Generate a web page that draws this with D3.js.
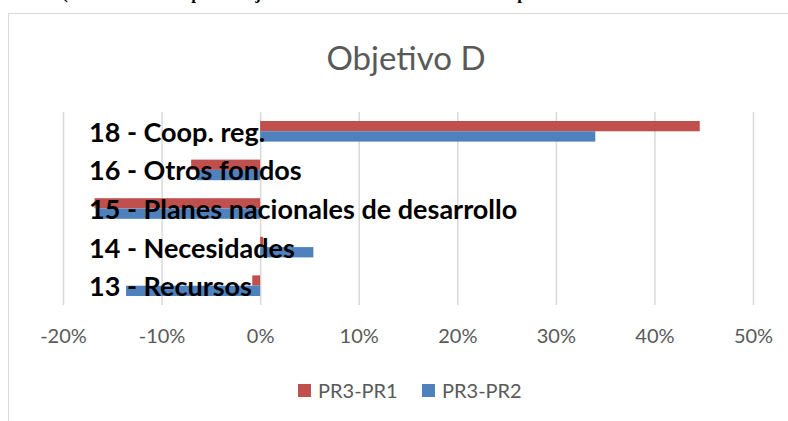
<!DOCTYPE html>
<meta charset="utf-8">
<script src="https://d3js.org/d3.v7.min.js"></script>
<style>
  body { margin: 0; background: #fff; }
  svg { display: block; }
</style>
<body>
<script>
  // chart data
  var categories = ["18 - Coop. reg.", "16 - Otros fondos", "15 - Planes nacionales de desarrollo", "14 - Necesidades", "13 - Recursos"];
  var pr3pr1 = [0.446, -0.070, -0.168, 0.003, -0.008];
  var pr3pr2 = [0.340, -0.064, -0.167, 0.054, -0.136];
  var seriesNames = ["PR3-PR1", "PR3-PR2"];
  var seriesColors = ["#c0504d", "#4f81bd"];
  var tickValues = [-0.2, -0.1, 0, 0.1, 0.2, 0.3, 0.4, 0.5];

  var W = 788, H = 421;
  var plot = { left: 63, right: 753, top: 112, bottom: 305 };

  var svg = d3.select("body").append("svg")
    .attr("width", W)
    .attr("height", H);

  // document heading above the chart, cut off by the crop as in the original
  svg.append("text")
    .attr("x", 40)
    .attr("y", -1)
    .style("font-family", "'Liberation Serif', serif")
    .style("font-weight", "bold")
    .style("font-size", "17px")
    .text("ón (sobre la base del porcentaje de las contribuciones de todos los p");

  // chart frame
  svg.append("rect")
    .attr("x", 8.5)
    .attr("y", 13.5)
    .attr("width", 900)
    .attr("height", 600)
    .attr("fill", "#fff")
    .attr("stroke", "#d9d9d9");

  // title
  svg.append("text")
    .attr("x", 406)
    .attr("y", 70)
    .attr("text-anchor", "middle")
    .style("font-family", "Lato, sans-serif")
    .style("font-size", "33px")
    .style("fill", "#595959")
    .text("Objetivo D");

  // scales
  var x = d3.scaleLinear()
    .domain([-0.2, 0.5])
    .range([plot.left, plot.right]);

  var y = d3.scaleBand()
    .domain(categories)
    .range([plot.top, plot.bottom])
    .paddingInner(0.466)
    .paddingOuter(0.233);

  var ySub = d3.scaleBand()
    .domain(seriesNames)
    .range([0, y.bandwidth()]);

  // gridlines
  svg.append("g")
    .attr("transform", "translate(0," + plot.bottom + ")")
    .call(d3.axisBottom(x).tickValues(tickValues).tickSize(-(plot.bottom - plot.top)).tickFormat(""))
    .call(function (g) { g.select(".domain").remove(); })
    .call(function (g) { g.selectAll("line").attr("stroke", "#d9d9d9").attr("stroke-width", 1.5); });

  // tick labels
  svg.append("g")
    .attr("transform", "translate(0," + plot.bottom + ")")
    .call(d3.axisBottom(x).tickValues(tickValues).tickSize(0).tickPadding(24)
      .tickFormat(function (d) { return Math.round(d * 100) + "%"; }))
    .call(function (g) { g.select(".domain").remove(); })
    .call(function (g) {
      g.selectAll("text")
        .style("font-family", "Lato, sans-serif")
        .style("font-size", "20px")
        .attr("fill", "#595959");
    });

  // bars
  var rows = categories.map(function (c, i) {
    return { cat: c, values: [pr3pr1[i], pr3pr2[i]] };
  });

  var groups = svg.selectAll(".row")
    .data(rows)
    .enter().append("g")
    .attr("class", "row")
    .attr("transform", function (d) { return "translate(0," + y(d.cat) + ")"; });

  groups.selectAll("rect")
    .data(function (d) { return d.values.map(function (v, j) { return { name: seriesNames[j], v: v, j: j }; }); })
    .enter().append("rect")
    .attr("x", function (d) { return x(Math.min(0, d.v)); })
    .attr("y", function (d) { return ySub(d.name); })
    .attr("width", function (d) { return Math.abs(x(d.v) - x(0)); })
    .attr("height", ySub.bandwidth())
    .attr("fill", function (d) { return seriesColors[d.j]; });

  // category labels (drawn over the bars, like the original)
  svg.selectAll(".cat")
    .data(categories)
    .enter().append("text")
    .attr("class", "cat")
    .attr("x", 89)
    .attr("y", function (d) { return y(d) + y.bandwidth() / 2 + 10.5; })
    .style("font-family", "Lato, sans-serif")
    .style("font-weight", "bold")
    .style("font-size", "27px")
    .attr("fill", "#000")
    .text(function (d) { return d; });

  // legend
  var legend = svg.selectAll(".legend")
    .data(seriesNames)
    .enter().append("g")
    .attr("class", "legend")
    .attr("transform", function (d, i) { return "translate(" + (298 + i * 124) + ",384)"; });

  legend.append("rect")
    .attr("width", 13)
    .attr("height", 13)
    .attr("fill", function (d, i) { return seriesColors[i]; });

  legend.append("text")
    .attr("x", 20)
    .attr("y", 13.5)
    .style("font-family", "Lato, sans-serif")
    .style("font-size", "20px")
    .attr("fill", "#595959")
    .text(function (d) { return d; });
</script>
</body>
